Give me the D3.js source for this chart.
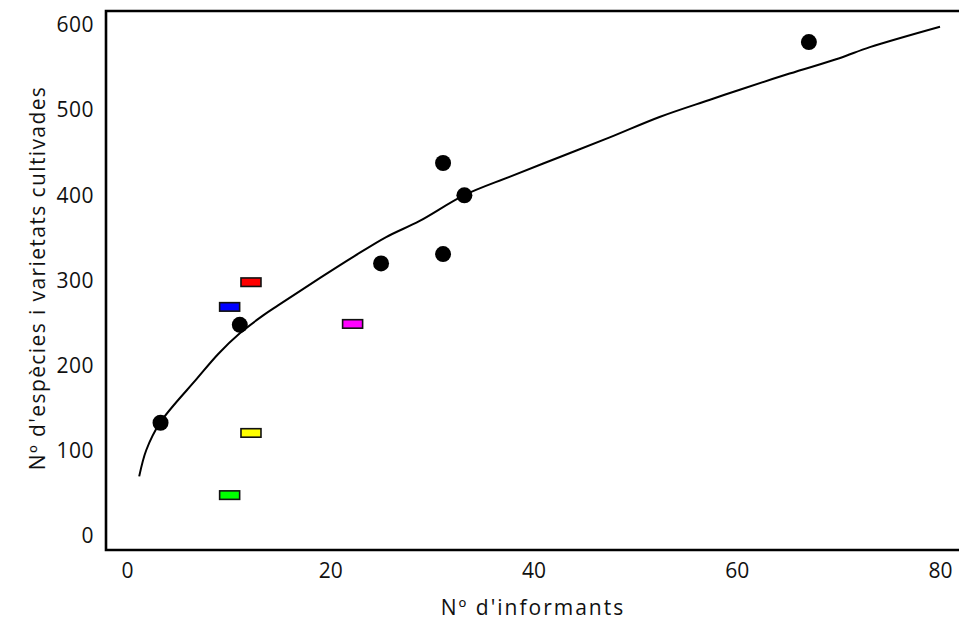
<!DOCTYPE html>
<html>
<head>
<meta charset="utf-8">
<script src="https://cdn.jsdelivr.net/npm/d3@7"></script>
<style>
  html, body { margin: 0; padding: 0; background: #fff; }
  svg text { font-family: "Open Sans", "Noto Sans", sans-serif; fill: #111; }
</style>
</head>
<body>
<svg id="chart" width="959" height="622"></svg>
<script>
// Surveyed localities: informants vs. cultivated species/varieties
const pointInformants = [3.3, 11.1, 25.0, 31.1, 31.1, 33.2, 67.1];
const pointSpecies    = [133, 248, 320, 331, 438, 400, 580];

// Other studies, shown as coloured markers
const markerInformants = [12.2, 10.1, 22.2, 12.2, 10.1];
const markerSpecies    = [298, 269, 249, 121, 48];
const markerColors     = ["#ff0000", "#0000ff", "#ff00ff", "#ffff00", "#00ff00"];

// Fitted accumulation curve
const curveInformants = [1.2, 1.9, 3.25, 6.9, 9.0, 11.1, 13.4, 14.9, 19.0, 22.3, 25.5, 28.8, 33.15, 37.7, 42.6, 47.5, 52.4, 57.3, 60.3, 65.2, 70.1, 73.1, 80];
const curveSpecies    = [70, 101, 133, 185, 214, 238, 259, 271, 303, 328, 351, 370, 400, 422, 445, 468, 492, 512, 524, 543, 561, 574, 598];

const xTicks = [0, 20, 40, 60, 80];
const yTicks = [0, 100, 200, 300, 400, 500, 600];

const svg = d3.select("#chart");
const x = d3.scaleLinear().domain([0, 80]).range([127, 940]);
const y = d3.scaleLinear().domain([0, 600]).range([536, 25]);

const frameLeft = 106, frameTop = 11, frameBottom = 550, frameRight = 959;

// Axis tick labels
const xAxis = svg.append("g")
  .attr("transform", `translate(0,${frameBottom})`)
  .call(d3.axisBottom(x).tickValues(xTicks).tickSize(0).tickPadding(13).tickFormat(d3.format("d")));
xAxis.select(".domain").remove();
xAxis.selectAll("text").style("font-size", "21px").attr("font-family", null).attr("fill", "#111");

const yAxis = svg.append("g")
  .attr("transform", `translate(${frameLeft},0)`)
  .call(d3.axisLeft(y).tickValues(yTicks).tickSize(0).tickPadding(12).tickFormat(d3.format("d")));
yAxis.select(".domain").remove();
yAxis.selectAll("text").style("font-size", "21px").style("letter-spacing", "0.5px").attr("font-family", null).attr("fill", "#111");

// Plot frame (left, top, bottom)
svg.append("path")
  .attr("d", `M${frameRight},${frameTop}H${frameLeft}V${frameBottom}H${frameRight}`)
  .attr("fill", "none").attr("stroke", "#000").attr("stroke-width", 2.6);

// Curve
const curveData = curveInformants.map((v, i) => [v, curveSpecies[i]]);
svg.append("path")
  .datum(curveData)
  .attr("d", d3.line().x(d => x(d[0])).y(d => y(d[1])).curve(d3.curveCatmullRom.alpha(0.5)))
  .attr("fill", "none").attr("stroke", "#000").attr("stroke-width", 2)
  .attr("stroke-linejoin", "round");

// Circles
svg.append("g").selectAll("circle")
  .data(pointInformants.map((v, i) => [v, pointSpecies[i]]))
  .join("circle")
  .attr("cx", d => x(d[0])).attr("cy", d => y(d[1])).attr("r", 8)
  .attr("fill", "#000");

// Coloured markers
const mw = 20, mh = 8.5;
svg.append("g").selectAll("rect")
  .data(markerInformants.map((v, i) => [v, markerSpecies[i], markerColors[i]]))
  .join("rect")
  .attr("x", d => x(d[0]) - mw / 2).attr("y", d => y(d[1]) - mh / 2)
  .attr("width", mw).attr("height", mh)
  .attr("fill", d => d[2]).attr("stroke", "#111").attr("stroke-width", 1.6);

// Axis titles
svg.append("text")
  .attr("x", 533).attr("y", 615)
  .attr("text-anchor", "middle")
  .style("font-size", "21px").style("letter-spacing", "2px")
  .text("Nº d'informants");

svg.append("text")
  .attr("transform", "translate(45,278) rotate(-90)")
  .attr("text-anchor", "middle")
  .style("font-size", "21px").style("letter-spacing", "1.4px")
  .text("Nº d'espècies i varietats cultivades");
</script>
</body>
</html>
